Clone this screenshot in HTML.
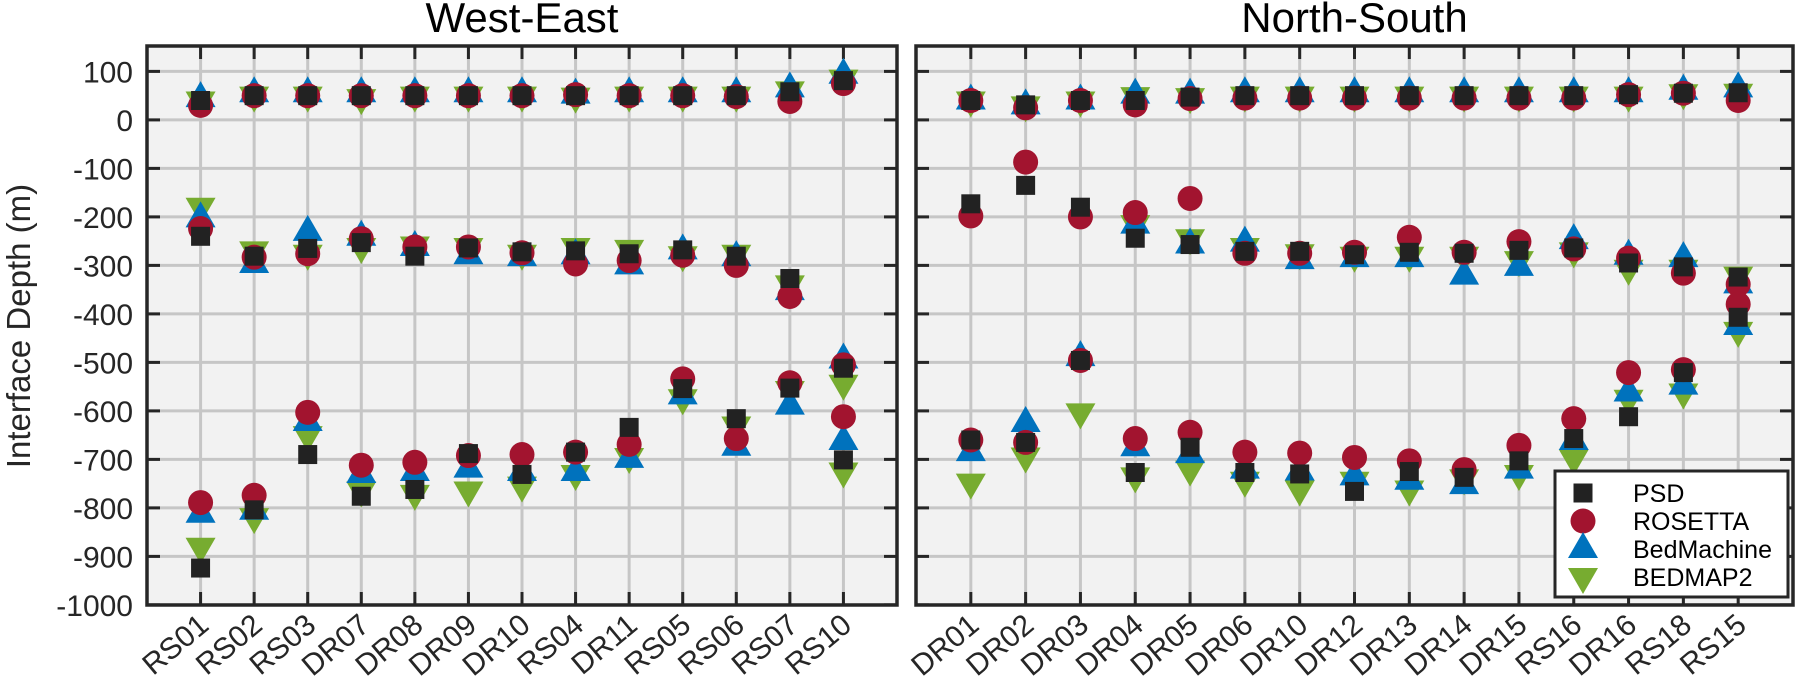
<!DOCTYPE html>
<html><head><meta charset="utf-8"><style>
html,body{margin:0;padding:0;background:#fff}
svg{display:block;font-family:"Liberation Sans",sans-serif}
</style></head><body>
<svg id="chart" width="1797" height="691" viewBox="0 0 1797 691" xmlns="http://www.w3.org/2000/svg"></svg>
<script>
const yTicks = [100,0,-100,-200,-300,-400,-500,-600,-700,-800,-900,-1000];
const weCats = ["RS01","RS02","RS03","DR07","DR08","DR09","DR10","RS04","DR11","RS05","RS06","RS07","RS10"];
const nsCats = ["DR01","DR02","DR03","DR04","DR05","DR06","DR10","DR12","DR13","DR14","DR15","RS16","DR16","RS18","RS15"];
// West-East: [top, middle, bottom] interfaces
const wePSD = [[40,50,50,50,50,50,50,50,50,50,50,58,81],[-240,-281,-265,-253,-281,-264,-272,-270,-276,-268,-281,-327,-512],[-924,-804,-690,-776,-762,-688,-731,-685,-634,-554,-616,-553,-701]];
const weROS = [[30,50,50,50,50,50,50,52,50,50,48,38,75],[-224,-283,-276,-245,-262,-262,-274,-297,-290,-279,-300,-364,-505],[-789,-774,-603,-712,-706,-692,-690,-685,-669,-534,-657,-542,-612]];
const weBM = [[45,55,55,55,55,55,55,52,55,55,55,65,93],[-203,-297,-231,-241,-262,-279,-283,-279,-300,-269,-283,-353,-494],[-812,-806,-623,-730,-726,-719,-726,-726,-699,-568,-674,-589,-662]];
const weB2 = [[40,50,50,45,50,50,50,48,50,50,50,61,85],[-179,-269,-276,-262,-259,-262,-276,-262,-266,-279,-276,-339,-544],[-880,-819,-650,-764,-771,-764,-754,-730,-695,-574,-630,-557,-725]];
// North-South
const nsPSD = [[40,31,40,40,47,50,50,50,50,50,50,50,52,55,56],[-173,-135,-180,-244,-257,-271,-271,-278,-273,-275,-269,-264,-295,-303,-324],[-660,-665,-496,-727,-675,-727,-730,-766,-725,-737,-703,-657,-612,-521,-407]];
const nsROS = [[40,25,40,31,44,45,45,45,45,45,45,45,52,55,40],[-198,-87,-200,-191,-162,-275,-275,-273,-242,-273,-251,-266,-285,-316,-339],[-660,-665,-496,-657,-644,-685,-687,-696,-703,-721,-671,-616,-521,-515,-380]];
const nsBM = [[40,30,40,52,52,55,55,55,55,55,55,55,55,60,65],[null,null,null,-216,-257,-253,-289,-285,-285,-321,-303,-248,-280,-285,-339],[-685,-625,-489,-675,-689,-721,-725,-735,-744,-753,-721,-662,-562,-548,-425]];
const nsB2 = [[40,30,40,49,47,50,50,50,50,50,50,50,50,55,56],[null,null,null,-215,-244,-262,-275,-280,-280,-280,-289,-271,-307,-307,-321],[-748,-694,-603,-735,-721,-744,-762,-744,-762,-739,-730,-698,-575,-562,-435]];

const NS='http://www.w3.org/2000/svg';
const svg=document.getElementById('chart');
function mk(tag,attrs,parent){const e=document.createElementNS(NS,tag);for(const k in attrs)e.setAttribute(k,attrs[k]);(parent||svg).appendChild(e);return e;}
const Y0=46,Y1=605;
function yScale(v){return 119.9-v*0.485;}

function panel(x0,x1,cats,series,title,pname){
  const g=mk('g',{});
  
  
  const n=cats.length;const step=(x1-x0)/(n+1);
  const xScale=i=>x0+(i+1)*step;
  const bg=mk('rect',{x:x0,y:Y0,width:x1-x0,height:Y1-Y0,fill:'#f2f2f2'},g);
  
  
  yTicks.forEach(t=>{
    const l=mk('line',{x1:x0,x2:x1,y1:yScale(t),y2:yScale(t),stroke:'#c6c6c6','stroke-width':3},g);
    
    
    mk('line',{x1:x0,x2:x0+13,y1:yScale(t),y2:yScale(t),stroke:'#262626','stroke-width':3},g);
    mk('line',{x1:x1-13,x2:x1,y1:yScale(t),y2:yScale(t),stroke:'#262626','stroke-width':3},g);
  });
  cats.forEach((c,i)=>{
    const x=xScale(i);
    const l=mk('line',{x1:x,x2:x,y1:Y0,y2:Y1,stroke:'#c6c6c6','stroke-width':3},g);
    
    
    mk('line',{x1:x,x2:x,y1:Y0,y2:Y0+13,stroke:'#262626','stroke-width':3},g);
    mk('line',{x1:x,x2:x,y1:Y1-13,y2:Y1,stroke:'#262626','stroke-width':3},g);
    const t=mk('text',{x:x+10,y:628,'font-size':30,fill:'#262626','text-anchor':'end',transform:`rotate(-40 ${x+10} 628)`},g);
    
    
    t.textContent=c;
  });
  series.forEach(s=>{
    s.data.forEach(grp=>{
      grp.forEach((v,i)=>{
        if(v===null)return;
        const x=xScale(i),y=yScale(v);
        const m=marker(s.shape,x,y,s.color,g);
        
        
      });
    });
  });
  const fr=mk('rect',{x:x0,y:Y0,width:x1-x0,height:Y1-Y0,fill:'none',stroke:'#262626','stroke-width':3.5},g);
  
  
  const tt=mk('text',{x:(x0+x1)/2,y:32,'font-size':42,fill:'#000','text-anchor':'middle'},g);
  
  
  tt.textContent=title;
}
function marker(shape,x,y,color,g){
  if(shape==='sq')return mk('rect',{x:x-9.5,y:y-9.5,width:19,height:19,fill:color},g);
  if(shape==='ci')return mk('circle',{cx:x,cy:y,r:12.5,fill:color},g);
  if(shape==='up')return mk('polygon',{points:`${x-15},${y+9} ${x+15},${y+9} ${x},${y-17}`,fill:color},g);
  return mk('polygon',{points:`${x-15},${y-9} ${x+15},${y-9} ${x},${y+17}`,fill:color},g);
}
const C={psd:'#222222',ros:'#A2142F',bm:'#0072BD',b2:'#77AC30'};
panel(147,897,weCats,[
  {name:'bedmap2',shape:'dn',color:C.b2,data:weB2},
  {name:'bedmachine',shape:'up',color:C.bm,data:weBM},
  {name:'rosetta',shape:'ci',color:C.ros,data:weROS},
  {name:'psd',shape:'sq',color:C.psd,data:wePSD}],'West-East','west-east');
panel(916,1793,nsCats,[
  {name:'bedmap2',shape:'dn',color:C.b2,data:nsB2},
  {name:'bedmachine',shape:'up',color:C.bm,data:nsBM},
  {name:'rosetta',shape:'ci',color:C.ros,data:nsROS},
  {name:'psd',shape:'sq',color:C.psd,data:nsPSD}],'North-South','north-south');
yTicks.forEach(t=>{
  const e=mk('text',{x:133,y:yScale(t)+11,'font-size':30,fill:'#262626','text-anchor':'end'});
  
  
  e.textContent=t;
});
const yl=mk('text',{x:0,y:0,'font-size':33,fill:'#262626','text-anchor':'middle',transform:'translate(30 326) rotate(-90)'});


yl.textContent='Interface Depth (m)';
// legend
const lg=mk('g',{});


const lb=mk('rect',{x:1555,y:471,width:233,height:126,fill:'#fff',stroke:'#262626','stroke-width':3},lg);


const legNames=['PSD','ROSETTA','BedMachine','BEDMAP2'];
const legShapes=['sq','ci','up','dn'];
const legColors=[C.psd,C.ros,C.bm,C.b2];
const legY=[493,521,549,577];
legNames.forEach((nm,i)=>{
  const m=marker(legShapes[i],1583,legY[i],legColors[i],lg);
  
  
  const t=mk('text',{x:1633,y:legY[i]+9,'font-size':25,fill:'#000'},lg);
  
  
  t.textContent=nm;
});
</script>
</body></html>
